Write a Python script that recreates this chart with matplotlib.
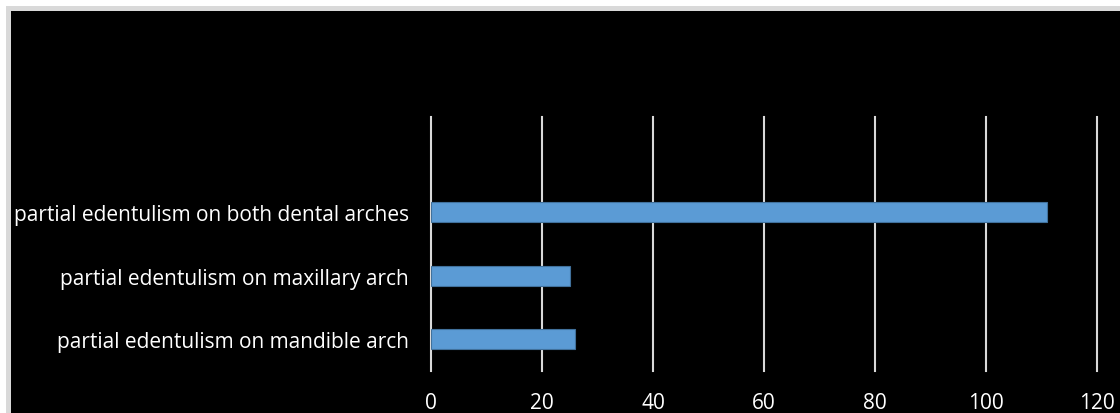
# Horizontal bar chart: partial edentulism by arch
import matplotlib.pyplot as plt
from matplotlib.patches import Rectangle

categories = [
    "partial edentulism on mandible arch",
    "partial edentulism on maxillary arch",
    "partial edentulism on both dental arches",
]
counts = [26, 25, 111]
x_ticks = [0, 20, 40, 60, 80, 100, 120]

W, H = 1120, 414
fig = plt.figure(figsize=(W / 100, H / 100), dpi=100)
fig.patch.set_facecolor("white")

# light grey frame with the black chart area inside it
fig.patches.append(Rectangle((6 / W, 0), 1, 1 - 7 / H, transform=fig.transFigure,
                             facecolor="#d9d9d9", edgecolor="none", zorder=-2))
fig.patches.append(Rectangle((11 / W, 0), 1, 1 - 12 / H, transform=fig.transFigure,
                             facecolor="black", edgecolor="none", zorder=-1))

ax = fig.add_axes([431 / W, (H - 372) / H, 666 / W, 254 / H])
ax.set_zorder(1)
ax.set_facecolor("black")

pos = list(range(len(categories)))
ax.barh(pos, counts, height=0.31, color="#5b9bd5", edgecolor="#41719c",
        linewidth=0.8, zorder=3)

ax.set_xlim(0, 120)
ax.set_ylim(-0.5, 3.5)
ax.set_xticks(x_ticks)
ax.set_yticks(pos)
ax.set_yticklabels(categories)

font = "Open Sans"
for lab in ax.get_xticklabels() + ax.get_yticklabels():
    lab.set_fontfamily(font)
    lab.set_fontsize(15)
    lab.set_color("white")

ax.tick_params(axis="both", length=0)
ax.tick_params(axis="x", pad=15)
ax.tick_params(axis="y", pad=16)

ax.grid(axis="x", color="#d9d9d9", linewidth=1.5, zorder=0)
for sp in ax.spines.values():
    sp.set_visible(False)
for gl in ax.get_xgridlines():
    gl.set_clip_on(False)

fig.savefig("out.png", dpi=100, facecolor=fig.get_facecolor())
